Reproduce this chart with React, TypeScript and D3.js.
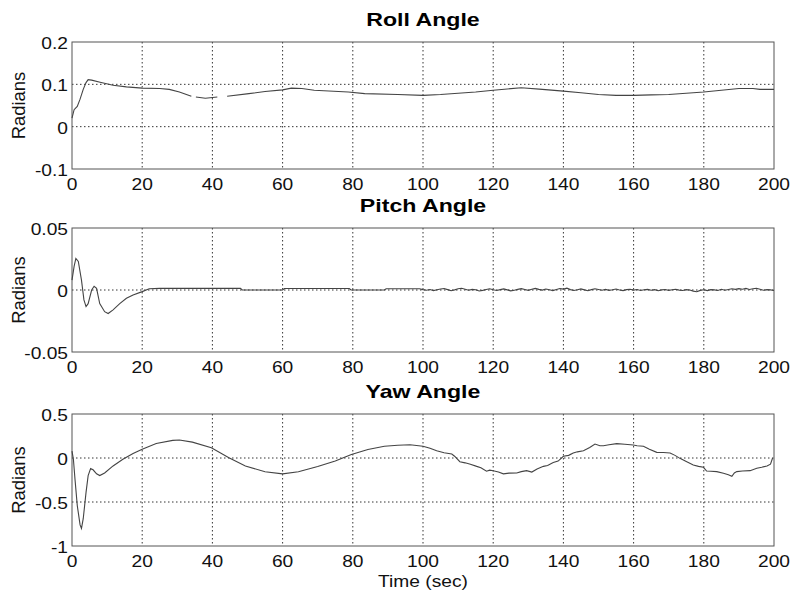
import React from "react";
import * as d3 from "d3";

// [time, radians]; null = gap in the trace
const rollData: [number, number | null][] = [
  [0, 0.02], [0.6, 0.04], [1.5, 0.048], [2.3, 0.065], [3.2, 0.088], [4, 0.104], [4.6, 0.111],
  [5.6, 0.11], [8, 0.105], [11.7, 0.098], [15.5, 0.094], [20, 0.091], [25, 0.09], [27.7, 0.088],
  [30.6, 0.082], [34, 0.072], [34.6, null], [35.3, 0.07], [38, 0.067], [41.4, 0.07], [42.5, null],
  [44.2, 0.072], [50.4, 0.078], [55, 0.083], [60, 0.087], [62.5, 0.091], [65.5, 0.09], [69, 0.086],
  [78.7, 0.082], [83.4, 0.078], [92.8, 0.076], [100, 0.074], [105, 0.076], [110, 0.079], [115, 0.082],
  [120, 0.086], [124, 0.089], [128, 0.092], [134, 0.088], [140, 0.084], [145, 0.08], [150, 0.076],
  [155, 0.074], [160, 0.074], [165, 0.075], [170, 0.076], [175, 0.079], [180, 0.082], [185, 0.086],
  [190, 0.09], [194, 0.09], [196, 0.088], [200, 0.088],
];

const pitchStart: [number, number][] = [
  [0, 0.008], [0.6, 0.019], [1.1, 0.0255], [1.8, 0.023], [2.7, 0.008], [3.4, -0.008], [4, -0.0134],
  [4.6, -0.011], [5.6, 0], [6.3, 0.003], [7, 0.0013], [7.9, -0.011], [9.3, -0.0175], [10.3, -0.019],
  [11.7, -0.016], [13.6, -0.011], [15.5, -0.0067], [17.4, -0.004], [20, -0.0013], [22, 0.001],
  [25, 0.0013], [48, 0.0013], [48.5, 0], [60, 0], [60.5, 0.0012], [79, 0.0012], [79.5, 0],
  [89, 0], [89.5, 0.001], [99, 0.001],
];

// pitch jitter after t = 100 s, one value per second, in thousandths of a radian
const pitchNoise: number[] = [
  0.3, -0.2, 0.4, -0.5, 0.2, 0.8, 1.2, 0.3, -0.6, 0.1, 1.0, 1.4, 0.6, -0.2, 0.5, 0.2, -0.8, -0.3, 0.4, 1.0,
  0.2, -0.4, 0.3, 0.9, 0.1, -0.7, -0.2, 0.5, 1.1, 0.4, -0.3, 0.6, 1.3, 0.5, -0.1, 0.8, 0.2, -0.5, 0.4, 1.2,
  0.7, 1.5, 0.3, -0.4, 0.2, 0.9, 0.1, -0.6, 0.3, 1.0, 0.4, -0.2, 0.5, -0.3, 0.2, 0.8, 0.0, -0.5, 0.3, 0.6,
  -0.1, 0.4, -0.4, 0.2, 0.5, -0.2, 0.3, -0.6, 0.1, 0.4, -0.3, 0.2, 0.6, -0.1, -0.4, 0.3, 0.0, -0.9, -1.4, -0.3,
  0.2, -0.5, 0.3, 0.1, -0.4, 0.6, -0.2, 0.4, 1.0, 0.5, 1.1, 0.6, 1.3, 0.4, 1.0, 1.4, 0.6, -0.2, 0.3, 0.1, -0.4,
];
const pitchNoiseStart = 100;

const yawData: [number, number][] = [
  [0, 0.078], [0.4, -0.015], [0.85, -0.24], [1.5, -0.54], [2.3, -0.76], [2.7, -0.8], [3.2, -0.69],
  [4, -0.39], [4.6, -0.2], [5.3, -0.12], [6, -0.134], [7, -0.18], [7.9, -0.2], [9.3, -0.17],
  [11.7, -0.09], [14.5, -0.015], [17.4, 0.052], [20, 0.1], [24, 0.164], [28.7, 0.2], [30.6, 0.205],
  [34.3, 0.18], [39.7, 0.116], [44.7, 0.004], [49.4, -0.09], [55, -0.157], [60, -0.18], [64.5, -0.157],
  [70, -0.097], [75, -0.034], [79.6, 0.04], [84.3, 0.097], [89, 0.134], [92.8, 0.145], [96.3, 0.151],
  [100, 0.133], [102, 0.11], [103.9, 0.083], [106, 0.06], [108.2, 0.045], [109, 0.02], [110.5, -0.042],
  [112, -0.055], [113.5, -0.07], [115.3, -0.095], [116.5, -0.11], [118.1, -0.15], [119, -0.138],
  [120, -0.144], [121.5, -0.16], [122.9, -0.18], [124.5, -0.172], [126.7, -0.17], [128, -0.155],
  [129.5, -0.144], [131, -0.16], [132.5, -0.125], [134.3, -0.095], [135.5, -0.085], [137.1, -0.05],
  [138.5, -0.035], [140, 0.02], [141.5, 0.03], [142.8, 0.057], [144, 0.07], [145.7, 0.083],
  [147.5, 0.12], [149, 0.159], [150.4, 0.14], [151.4, 0.14], [153, 0.15], [155.2, 0.163],
  [157.5, 0.157], [159.9, 0.148], [161, 0.14], [162.8, 0.133], [164.5, 0.1], [166.6, 0.064],
  [168.5, 0.062], [170.4, 0.057], [171.8, 0.03], [173.2, -0.004], [175, -0.04], [177, -0.08],
  [178.5, -0.095], [179.9, -0.106], [180.8, -0.148], [182, -0.15], [183.7, -0.155], [185.6, -0.174],
  [187, -0.19], [188, -0.208], [188.7, -0.17], [189.4, -0.155], [191, -0.148], [193.2, -0.144],
  [195.1, -0.117], [196.5, -0.105], [198, -0.09], [199, -0.07], [199.6, 0],
];

const xTicks = [0, 20, 40, 60, 80, 100, 120, 140, 160, 180, 200];
const rollTicks = [-0.1, 0, 0.1, 0.2];
const pitchTicks = [-0.05, 0, 0.05];
const yawTicks = [-1, -0.5, 0, 0.5];

const pitchData: [number, number][] = pitchStart.concat(
  pitchNoise.map((v, i) => [pitchNoiseStart + i, v / 1000] as [number, number])
);

const W = 791;
const H = 592;
const left = 72;
const right = 774;
const font = "'Liberation Sans', Arial, sans-serif";
const sx = 1.2; // the reference's text is stretched sideways

interface PanelProps {
  title: string;
  data: [number, number | null][];
  domain: [number, number];
  ticks: number[];
  top: number;
  bottom: number;
  fmt: (v: number) => string;
  xlabel?: string;
}

function Panel({ title, data, domain, ticks, top, bottom, fmt, xlabel }: PanelProps) {
  const x = d3.scaleLinear().domain([0, 200]).range([left, right]);
  const y = d3.scaleLinear().domain(domain).range([bottom, top]);
  const line = d3
    .line<[number, number | null]>()
    .defined((d) => d[1] !== null)
    .x((d) => x(d[0]))
    .y((d) => y(d[1] as number));
  const mid = (top + bottom) / 2;
  return (
    <g>
      <text
        transform={`translate(${(left + right) / 2},${top - 16}) scale(1.25,1)`}
        textAnchor="middle"
        fontFamily={font}
        fontWeight="bold"
        fontSize={18.5}
      >
        {title}
      </text>
      {xTicks.slice(1, -1).map((t) => (
        <line key={"gx" + t} x1={x(t)} x2={x(t)} y1={top} y2={bottom} stroke="#000" strokeWidth={0.8} strokeDasharray="1.5,2.5" />
      ))}
      {ticks
        .filter((t) => t !== domain[0] && t !== domain[1])
        .map((t) => (
          <line key={"gy" + t} x1={left} x2={right} y1={y(t)} y2={y(t)} stroke="#000" strokeWidth={0.8} strokeDasharray="1.5,2.5" />
        ))}
      <rect x={left} y={top} width={right - left} height={bottom - top} fill="none" stroke="#555" strokeWidth={1} />
      <path d={line(data) || ""} fill="none" stroke="#444" strokeWidth={1.1} />
      {xTicks.map((t) => (
        <text
          key={"xl" + t}
          transform={`translate(${x(t)},${bottom + 21}) scale(${sx},1)`}
          textAnchor="middle"
          fontFamily={font}
          fontSize={16}
          fill="#111"
        >
          {t}
        </text>
      ))}
      {ticks.map((t) => (
        <text
          key={"yl" + t}
          transform={`translate(${left - 4},${y(t) + 7}) scale(${sx},1)`}
          textAnchor="end"
          fontFamily={font}
          fontSize={16}
          fill="#111"
        >
          {fmt(t)}
        </text>
      ))}
      <text
        transform={`translate(25,${mid}) rotate(-90) scale(1.15,${sx})`}
        textAnchor="middle"
        fontFamily={font}
        fontSize={16}
        fill="#111"
      >
        Radians
      </text>
      {xlabel && (
        <text
          transform={`translate(${(left + right) / 2},${bottom + 41}) scale(${sx},1)`}
          textAnchor="middle"
          fontFamily={font}
          fontSize={16}
          fill="#111"
        >
          {xlabel}
        </text>
      )}
    </g>
  );
}

export default function App() {
  const fmt = (v: number) => (v === 0 ? "0" : String(v));
  return (
    <svg width={W} height={H} style={{ position: "absolute", left: 0, top: 0, background: "#fff" }}>
      <Panel title="Roll Angle" data={rollData} domain={[-0.1, 0.2]} ticks={rollTicks} top={42} bottom={169} fmt={fmt} />
      <Panel title="Pitch Angle" data={pitchData} domain={[-0.05, 0.05]} ticks={pitchTicks} top={228} bottom={352} fmt={fmt} />
      <Panel title="Yaw Angle" data={yawData} domain={[-1, 0.5]} ticks={yawTicks} top={414} bottom={546} fmt={fmt} xlabel="Time (sec)" />
    </svg>
  );
}
